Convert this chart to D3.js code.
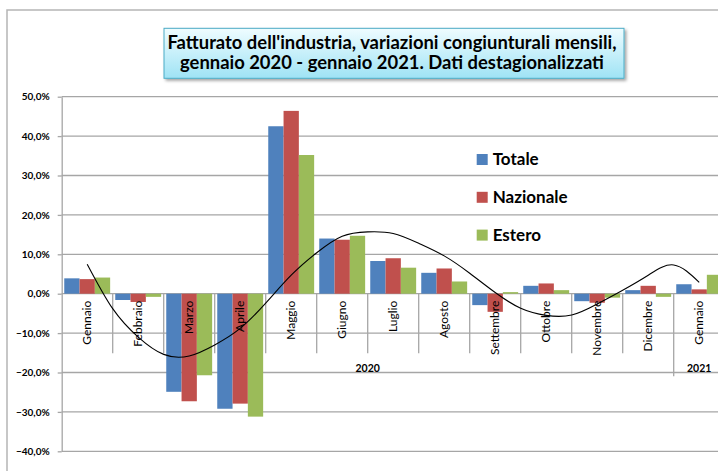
<!DOCTYPE html>
<html lang="it">
<head>
<meta charset="utf-8">
<title>Fatturato dell'industria, variazioni congiunturali mensili</title>
<script src="https://cdn.jsdelivr.net/npm/d3@7"></script>
<style>
body { margin: 0; background: #fff; }
svg { display: block; font-family: Lato, "Open Sans", sans-serif; }
</style>
</head>
<body>
<div id="chart"><svg width="718" height="471"></svg></div>
<script>
// data (variazioni %, dati destagionalizzati)
var months = ['Gennaio', 'Febbraio', 'Marzo', 'Aprile', 'Maggio', 'Giugno', 'Luglio',
              'Agosto', 'Settembre', 'Ottobre', 'Novembre', 'Dicembre', 'Gennaio'];
var yearLabels = ['2020', '2021'];
var yearMonths = [12, 1];
var series = ['Totale', 'Nazionale', 'Estero'];
var totale    = [3.9, -1.6, -24.9, -29.2, 42.5, 14.0, 8.3, 5.3, -2.9, 2.0, -1.9, 0.9, 2.4];
var nazionale = [3.7, -2.1, -27.3, -27.9, 46.4, 13.7, 9.0, 6.4, -4.6, 2.6, -2.3, 2.0, 1.1];
var estero    = [4.1, -0.8, -20.7, -31.2, 35.2, 14.7, 6.6, 3.1, 0.4, 0.9, -1.0, -0.8, 4.8];
// trend curve on Totale, position in months and value
var trendAt  = [0, 0.5, 1, 1.5, 2, 2.5, 3, 3.5, 4, 4.5, 5, 5.5, 6, 6.5, 7, 7.5, 8, 8.5, 9, 9.5, 10, 10.5, 11, 11.5, 12];
var trendVal = [7.5, -3.8, -11.0, -15.4, -15.8, -13.0, -8.8, -2.4, 4.7, 10.4, 14.6, 15.7, 15.3, 12.8,
                9.6, 5.2, 0.3, -3.7, -5.5, -5.4, -2.6, 0.9, 4.7, 7.3, 2.9];
var yTicks = [50, 40, 30, 20, 10, 0, -10, -20, -30, -40];
var titleLines = ["Fatturato dell'industria, variazioni congiunturali mensili,",
                  "gennaio 2020 - gennaio 2021. Dati destagionalizzati"];

var colors = {Totale: '#4f81bd', Nazionale: '#c0504d', Estero: '#9bbb59'};
var values = {Totale: totale, Nazionale: nazionale, Estero: estero};

var left = 61.7, step = 51;
var svg = d3.select('#chart svg');

var it = d3.formatLocale({decimal: ',', thousands: '.', grouping: [3], currency: ['', '€']});
var fmt = it.format('.1f');

var x = d3.scaleBand().domain(d3.range(months.length))
          .range([left, left + step * months.length]);
var xs = d3.scaleBand().domain(series).range([0, x.bandwidth()]).paddingOuter(0.1667);
var y = d3.scaleLinear().domain([-40, 50]).range([451.3, 96.7]);
var xt = d3.scaleLinear().domain([0, months.length]).range(x.range());

// outer frame (cropped on the right / bottom)
svg.append('rect')
    .attr('x', 7).attr('y', 10).attr('width', 800).attr('height', 600)
    .attr('fill', 'none').attr('stroke', '#b5b5b5').attr('stroke-width', 1.5);

// title box
var defs = svg.append('defs');
var grad = defs.append('linearGradient').attr('id', 'tgrad')
    .attr('x1', 0).attr('y1', 0).attr('x2', 0).attr('y2', 1);
grad.append('stop').attr('offset', '0%').attr('stop-color', '#effcff');
grad.append('stop').attr('offset', '100%').attr('stop-color', '#9fe3f5');
defs.append('filter').attr('id', 'shadow')
    .attr('x', '-5%').attr('y', '-20%').attr('width', '112%').attr('height', '150%')
  .append('feDropShadow')
    .attr('dx', 2).attr('dy', 2).attr('stdDeviation', 1.5)
    .attr('flood-color', '#000').attr('flood-opacity', 0.35);

svg.append('rect')
    .attr('x', 164).attr('y', 28.3).attr('width', 460).attr('height', 50)
    .attr('fill', 'url(#tgrad)').attr('stroke', '#4bacc6').attr('stroke-width', 1)
    .attr('filter', 'url(#shadow)');

svg.append('g').selectAll('text')
    .data(titleLines)
  .enter().append('text')
    .attr('x', 392)
    .attr('y', function(d, i) { return 48.5 + i * 20.5; })
    .attr('text-anchor', 'middle')
    .attr('font-size', '18.4px')
    .attr('font-weight', 'bold')
    .text(function(d) { return d; });

// horizontal grid
svg.append('g').selectAll('line')
    .data(yTicks)
  .enter().append('line')
    .attr('x1', left).attr('x2', 720)
    .attr('y1', function(d) { return y(d); })
    .attr('y2', function(d) { return y(d); })
    .attr('stroke', '#a6a6a6').attr('stroke-width', 1.3);

// y axis
var yAxis = svg.append('g')
    .attr('transform', 'translate(' + left + ',0)')
    .call(d3.axisLeft(y).tickValues(yTicks).tickSize(4).tickSizeOuter(0).tickPadding(8)
            .tickFormat(function(d) { return fmt(d) + '%'; }));
yAxis.select('.domain').attr('stroke', '#a6a6a6').attr('stroke-width', 1.3);
yAxis.selectAll('.tick line').attr('stroke', '#a6a6a6').attr('stroke-width', 1.3);
yAxis.selectAll('.tick text')
    .attr('font-family', 'Lato, sans-serif')
    .attr('font-size', '10px').attr('font-weight', 'bold').attr('fill', '#000');

// month separators below the zero line
var y0 = y(0);
svg.append('g').selectAll('line')
    .data(d3.range(1, months.length))
  .enter().append('line')
    .attr('x1', function(d) { return xt(d); })
    .attr('x2', function(d) { return xt(d); })
    .attr('y1', y0)
    .attr('y2', function(d) { return d === yearMonths[0] ? y0 + 82.5 : y0 + 59.6; })
    .attr('stroke', '#a6a6a6').attr('stroke-width', 1.3);

// bars
series.forEach(function(s) {
    svg.append('g').selectAll('rect')
        .data(values[s])
      .enter().append('rect')
        .attr('x', function(d, i) { return x(i) + xs(s); })
        .attr('y', function(d) { return y(Math.max(0, d)); })
        .attr('width', xs.bandwidth())
        .attr('height', function(d) { return Math.abs(y(d) - y(0)); })
        .attr('fill', colors[s]);
});

// month labels
svg.append('g').selectAll('text')
    .data(months)
  .enter().append('text')
    .attr('transform', function(d, i) {
        return 'translate(' + (x(i) + x.bandwidth() / 2) + ',' + (y0 + 7) + ') rotate(-90)';
    })
    .attr('dy', '0.35em')
    .attr('text-anchor', 'end')
    .attr('font-size', '12px')
    .text(function(d) { return d; });

// year labels
var start = 0;
yearLabels.forEach(function(lab, k) {
    var end = start + yearMonths[k];
    svg.append('text')
        .attr('x', (xt(start) + xt(end)) / 2)
        .attr('y', 372)
        .attr('text-anchor', 'middle')
        .attr('font-size', '10.5px')
        .attr('font-weight', 'bold')
        .text(lab);
    start = end;
});

// trend line
var trend = d3.line()
    .x(function(d, i) { return xt(d + 0.5); })
    .y(function(d, i) { return y(trendVal[i]); })
    .curve(d3.curveNatural);
svg.append('path')
    .attr('d', trend(trendAt))
    .attr('fill', 'none')
    .attr('stroke', '#000')
    .attr('stroke-width', 1.1);

// legend
var legend = svg.append('g').attr('transform', 'translate(476.7,154)');
var row = legend.selectAll('g')
    .data(series)
  .enter().append('g')
    .attr('transform', function(d, i) { return 'translate(0,' + (i * 37.8) + ')'; });
row.append('rect')
    .attr('width', 11).attr('height', 11)
    .attr('fill', function(d) { return colors[d]; });
row.append('text')
    .attr('x', 16).attr('y', 11)
    .attr('font-size', '17px')
    .attr('font-weight', 'bold')
    .text(function(d) { return d; });
</script>
</body>
</html>
